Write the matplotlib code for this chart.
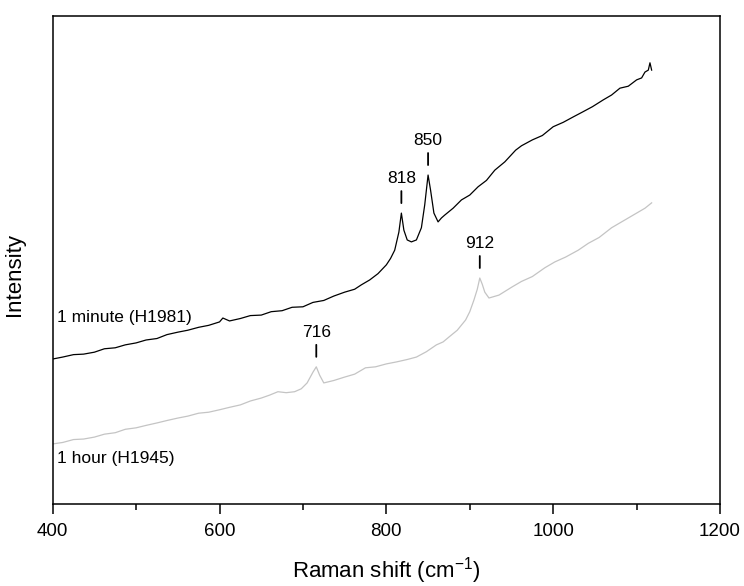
import numpy as np
import matplotlib.pyplot as plt
from matplotlib.ticker import MultipleLocator

plt.rcParams['font.family'] = ['Liberation Sans', 'DejaVu Sans']

# 1 minute (H1981) spectrum
shift_min = [400, 412, 425, 437, 450, 462, 475, 487, 500, 512, 525, 537, 550, 562, 575, 587,
             600, 604, 612, 625, 637, 650, 662, 675, 687, 700, 712, 725, 737, 750, 762, 770,
             780, 790, 800, 805, 810, 815, 818, 821, 825, 830, 836, 842, 846, 850, 853, 857,
             862, 866, 870, 880, 890, 900, 910, 920, 930, 942, 955, 962, 975, 987, 1000, 1012,
             1025, 1035, 1047, 1060, 1070, 1080, 1090, 1100, 1106, 1110, 1114, 1116, 1118]
int_min = [29.7, 30.1, 30.6, 30.7, 31.1, 31.8, 32.0, 32.6, 33.0, 33.6, 33.9, 34.7, 35.2, 35.6, 36.2, 36.6,
           37.3, 38.1, 37.5, 38.0, 38.6, 38.7, 39.4, 39.6, 40.3, 40.4, 41.3, 41.7, 42.6, 43.4, 44.0, 44.9,
           45.9, 47.2, 49.0, 50.3, 52.0, 55.7, 59.6, 56.1, 54.1, 53.7, 54.1, 56.6, 61.3, 67.4, 64.3, 59.6,
           57.8, 58.6, 59.2, 60.6, 62.3, 63.3, 65.0, 66.3, 68.4, 70.1, 72.5, 73.4, 74.6, 75.5, 77.3, 78.2,
           79.4, 80.3, 81.4, 82.8, 83.8, 85.2, 85.6, 86.9, 87.3, 88.5, 88.9, 90.4, 88.9]

# 1 hour (H1945) spectrum
shift_hr = [400, 412, 425, 437, 450, 462, 475, 487, 500, 512, 525, 537, 550, 562, 575, 587,
            600, 612, 625, 637, 650, 660, 670, 680, 690, 698, 705, 712, 716, 720, 725, 737,
            750, 762, 775, 787, 800, 812, 825, 836, 848, 860, 868, 875, 885, 895, 900, 905,
            909, 912, 915, 918, 923, 935, 951, 962, 975, 990, 1002, 1015, 1030, 1042, 1055, 1070,
            1085, 1100, 1110, 1118]
int_hr = [12.3, 12.6, 13.2, 13.3, 13.7, 14.3, 14.6, 15.3, 15.6, 16.1, 16.6, 17.1, 17.6, 18.0, 18.6, 18.8,
          19.3, 19.8, 20.3, 21.1, 21.7, 22.3, 23.0, 22.8, 23.0, 23.6, 24.8, 27.0, 28.1, 26.4, 24.8, 25.3,
          26.0, 26.6, 27.9, 28.1, 28.7, 29.1, 29.6, 30.1, 31.2, 32.6, 33.2, 34.2, 35.6, 37.7, 39.4, 41.8,
          44.0, 46.3, 45.0, 43.4, 42.2, 42.8, 44.5, 45.6, 46.6, 48.4, 49.6, 50.6, 52.0, 53.4, 54.6, 56.6,
          58.1, 59.6, 60.6, 61.7]

peaks_min = [818, 850]
peaks_hr = [716, 912]


def main():
    fig = plt.figure(figsize=(7.44, 5.86), dpi=100)
    ax = fig.add_axes([0.0708, 0.140, 0.8970, 0.8328])

    ax.plot(shift_min, int_min, color='black', lw=0.9)
    ax.plot(shift_hr, int_hr, color='#c4c4c4', lw=0.9)

    # peak labels with a short tick above each peak
    for xs, ys, peaks in [(shift_min, int_min, peaks_min), (shift_hr, int_hr, peaks_hr)]:
        for p in peaks:
            y = np.interp(p, xs, ys)
            ax.annotate('', xy=(p, y), xytext=(0, 22), textcoords='offset pixels',
                        arrowprops=dict(arrowstyle='-', lw=1.3, color='black',
                                        shrinkA=0, shrinkB=7.2))
            ax.annotate(str(p), xy=(p, y), xytext=(0, 27), textcoords='offset pixels',
                        ha='center', va='bottom', fontsize=12.5)

    ax.text(0.007, 0.383, '1 minute (H1981)', transform=ax.transAxes,
            ha='left', va='center', fontsize=12.5)
    ax.text(0.007, 0.094, '1 hour (H1945)', transform=ax.transAxes,
            ha='left', va='center', fontsize=12.5)

    ax.set_xlim(400, 1200)
    ax.set_ylim(0, 100)
    ax.xaxis.set_major_locator(MultipleLocator(200))
    ax.xaxis.set_minor_locator(MultipleLocator(100))
    ax.tick_params(axis='x', which='major', direction='out', length=7.5, width=1.1,
                   labelsize=13.5, pad=6)
    ax.tick_params(axis='x', which='minor', direction='out', length=4, width=1.1)
    ax.set_yticks([])
    for s in ax.spines.values():
        s.set_linewidth(1.1)

    ax.set_xlabel('Raman shift (cm$^{\\mathregular{-1}}$)', fontsize=16)
    ax.xaxis.set_label_coords(0.5, -0.105)
    ax.set_ylabel('Intensity', fontsize=16)
    ax.yaxis.set_label_coords(-0.042, 0.47)

    plt.savefig('out.png', dpi=100)


if __name__ == '__main__':
    main()
